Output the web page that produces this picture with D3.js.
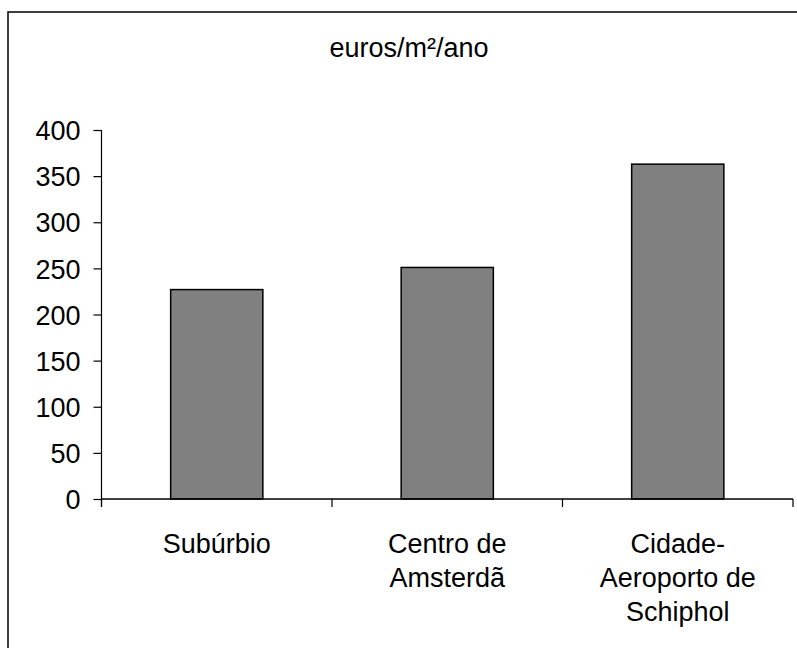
<!DOCTYPE html>
<html><head><meta charset="utf-8">
<script src="https://cdn.jsdelivr.net/npm/d3@7"></script>
<style>body{margin:0;background:#fff}svg{display:block}text{font-family:"Liberation Sans",Arial,sans-serif;fill:#000}</style>
</head><body>
<script>
const categories = [["Subúrbio"], ["Centro de", "Amsterdã"], ["Cidade-", "Aeroporto de", "Schiphol"]];
const values = [227, 251, 363];
const yTicks = [0, 50, 100, 150, 200, 250, 300, 350, 400];
const title = "euros/m²/ano";

(function () {
const W = 797, H = 648, FS = 27;
const svg = d3.select("body").append("svg").attr("width", W).attr("height", H);

svg.append("rect").attr("x", 8).attr("y", 12).attr("width", 820).attr("height", 700)
  .attr("fill", "#fff").attr("stroke", "#000").attr("stroke-width", 1.5);

const pLeft = 101.5, pRight = 793, pTop = 130, pBottom = 499;
const x = d3.scaleBand().domain(d3.range(categories.length)).range([pLeft, pRight]).paddingInner(0.6).paddingOuter(0.3);
const xc = d3.scaleBand().domain(d3.range(categories.length)).range([pLeft, pRight]);
const y = d3.scaleLinear().domain([0, 400]).range([pBottom, pTop]);

svg.append("text").attr("x", 409).attr("y", 57).attr("text-anchor", "middle")
  .attr("font-size", FS).text(title);

svg.selectAll("rect.bar").data(values).enter().append("rect").attr("class", "bar")
  .attr("x", (d, i) => x(i)).attr("width", x.bandwidth())
  .attr("y", d => y(d)).attr("height", d => y(0) - y(d))
  .attr("fill", "#808080").attr("stroke", "#000").attr("stroke-width", 1.5);

const ya = svg.append("g").attr("transform", `translate(${pLeft},0)`)
  .call(d3.axisLeft(y).tickValues(yTicks).tickSize(8).tickPadding(13).tickSizeOuter(0));
ya.select(".domain").remove();
ya.append("line").attr("x1", 0).attr("x2", 0).attr("y1", pTop).attr("y2", pBottom + 8).attr("stroke", "#000").attr("stroke-width", 1.2);
ya.selectAll(".tick line").attr("stroke", "#000").attr("stroke-width", 1.2);
ya.selectAll(".tick text").attr("font-size", FS).attr("font-family", '"Liberation Sans",Arial,sans-serif').attr("fill", "#000").attr("dy", "0.36em");

const xa = svg.append("g");
xa.append("line").attr("x1", pLeft).attr("x2", pRight).attr("y1", pBottom).attr("y2", pBottom).attr("stroke", "#000").attr("stroke-width", 1.5);
const bounds = d3.range(categories.length + 1).map(i => i < categories.length ? xc(i) : xc(i - 1) + xc.bandwidth());
xa.selectAll("line.t").data(bounds).enter().append("line").attr("class", "t")
  .attr("x1", d => d).attr("x2", d => d).attr("y1", pBottom).attr("y2", pBottom + 8)
  .attr("stroke", "#000").attr("stroke-width", 1.2);

const lab = svg.selectAll("text.cat").data(categories).enter().append("text").attr("class", "cat")
  .attr("text-anchor", "middle").attr("font-size", FS);
lab.each(function (lines, i) {
  const t = d3.select(this);
  lines.forEach((l, k) => {
    t.append("tspan").attr("x", xc(i) + xc.bandwidth() / 2).attr("y", 553 + k * 34).text(l);
  });
});
})();
</script>
</body></html>
